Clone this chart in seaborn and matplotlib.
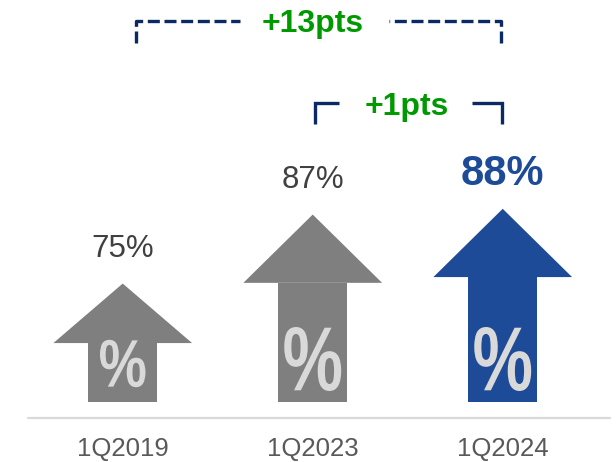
import numpy as np
import pandas as pd
import matplotlib.pyplot as plt
import seaborn as sns
from matplotlib.textpath import TextPath
from matplotlib.font_manager import FontProperties
from matplotlib.patches import PathPatch
from matplotlib.transforms import Affine2D

# Data
quarters = ['1Q2019', '1Q2023', '1Q2024']
scores = [75, 87, 88]
arrow_colors = ['#7f7f7f', '#7f7f7f', '#1e4b97']
label_colors = ['#404040', '#404040', '#1e4b97']
changes = ['+13pts', '+1pts']

sns.set_theme(style='white')
plt.rcParams['font.family'] = ['Liberation Sans', 'DejaVu Sans']

# Arrow geometry (score units / category units)
PX = 5.75          # pixels per score point
CAT_PX = 190       # pixels per category step
BASE = 54.4        # score at the foot of the arrows
SHAFT_W = 0.365
HEAD_W = 0.73
HEAD_H = 68 / PX
NAVY = '#0b2a63'
GREEN = '#009a00'

heads = [min(HEAD_H, 0.5 * (s - BASE)) for s in scores]
df = pd.DataFrame({
    'quarter': quarters,
    'score': scores,
    'shaft': [s - h for s, h in zip(scores, heads)],
})

fig = plt.figure(figsize=(6.16, 4.62), dpi=100)
ax = fig.add_axes([0.045, 60 / 462, 570 / 616, 402 / 462])

# 1. Arrow shafts as bars
sns.barplot(data=df, x='quarter', y='shaft', hue='quarter', palette=arrow_colors,
            width=SHAFT_W, saturation=1, legend=False, linewidth=0, ax=ax)
ax.set_xlim(-0.5, 2.5)
ax.set_ylim(BASE, BASE + 402 / PX)

# condensed bold % glyph, drawn as a path
pct = TextPath((0, 0), '%', size=1, prop=FontProperties(family='Liberation Sans', weight='bold'))
ext = pct.get_extents()

# 2. Arrow heads, labels and % glyphs
for i, (s, h, c, lc) in enumerate(zip(scores, heads, arrow_colors, label_colors)):
    ax.fill([i - HEAD_W / 2, i, i + HEAD_W / 2], [s - h - 0.05, s, s - h - 0.05],
            color=c, lw=0)
    last = i == len(scores) - 1
    ax.text(i, s + 35 / PX, f'{s}%', ha='center', va='center', color=lc,
            fontsize=30 if last else 22.5, fontweight='bold' if last else 'normal')
    shaft_px = (s - h - BASE) * PX
    gh = min(64, 0.8 * shaft_px)
    gw = gh * (0.89 if gh > 55 else 0.96)
    yc = BASE + min(43, 0.65 * shaft_px) / PX
    tr = (Affine2D()
          .translate(-(ext.x0 + ext.x1) / 2, -(ext.y0 + ext.y1) / 2)
          .scale(gw / ext.width / CAT_PX, gh / ext.height / PX)
          .translate(i, yc))
    ax.add_patch(PathPatch(tr.transform_path(pct), facecolor='#d9d9d9', lw=0))

# 3. Baseline under the arrows
ax.plot([-0.5, 2.565], [BASE - 16 / PX] * 2, color='#d9d9d9', lw=1.6, clip_on=False)

# 4. Change brackets
top_y, top_end = BASE + (402 - 20.7) / PX, BASE + (402 - 43) / PX
dash = dict(color=NAVY, lw=2.4, ls=(0, (3.6, 1.4)), solid_capstyle='butt',
            dash_capstyle='butt', clip_on=False)
ax.plot([0.07, 0.07, 0.617], [top_end, top_y, top_y], **dash)
ax.plot([1.99, 1.99, 1.40], [top_end, top_y, top_y], **dash)
ax.text(1.0, BASE + (402 - 23.7) / PX, changes[0], ha='center', va='center',
        color=GREEN, fontsize=23, fontweight='bold')

mid_y, mid_end = BASE + (402 - 103) / PX, BASE + (402 - 124) / PX
solid = dict(color=NAVY, lw=2.4, solid_capstyle='butt', solid_joinstyle='miter')
ax.plot([1.01, 1.01, 1.14], [mid_end, mid_y, mid_y], **solid)
ax.plot([1.84, 1.995, 1.995], [mid_y, mid_y, mid_end], **solid)
ax.text(1.497, BASE + (402 - 106.7) / PX, changes[1], ha='center', va='center',
        color=GREEN, fontsize=23, fontweight='bold')

# 5. Axes cleanup
ax.set_xlabel('')
ax.set_ylabel('')
ax.set_yticks([])
ax.tick_params(axis='x', length=0, pad=25, labelsize=18.5, labelcolor='#595959')
sns.despine(ax=ax, left=True, bottom=True)

fig.savefig('out.png', dpi=100)
